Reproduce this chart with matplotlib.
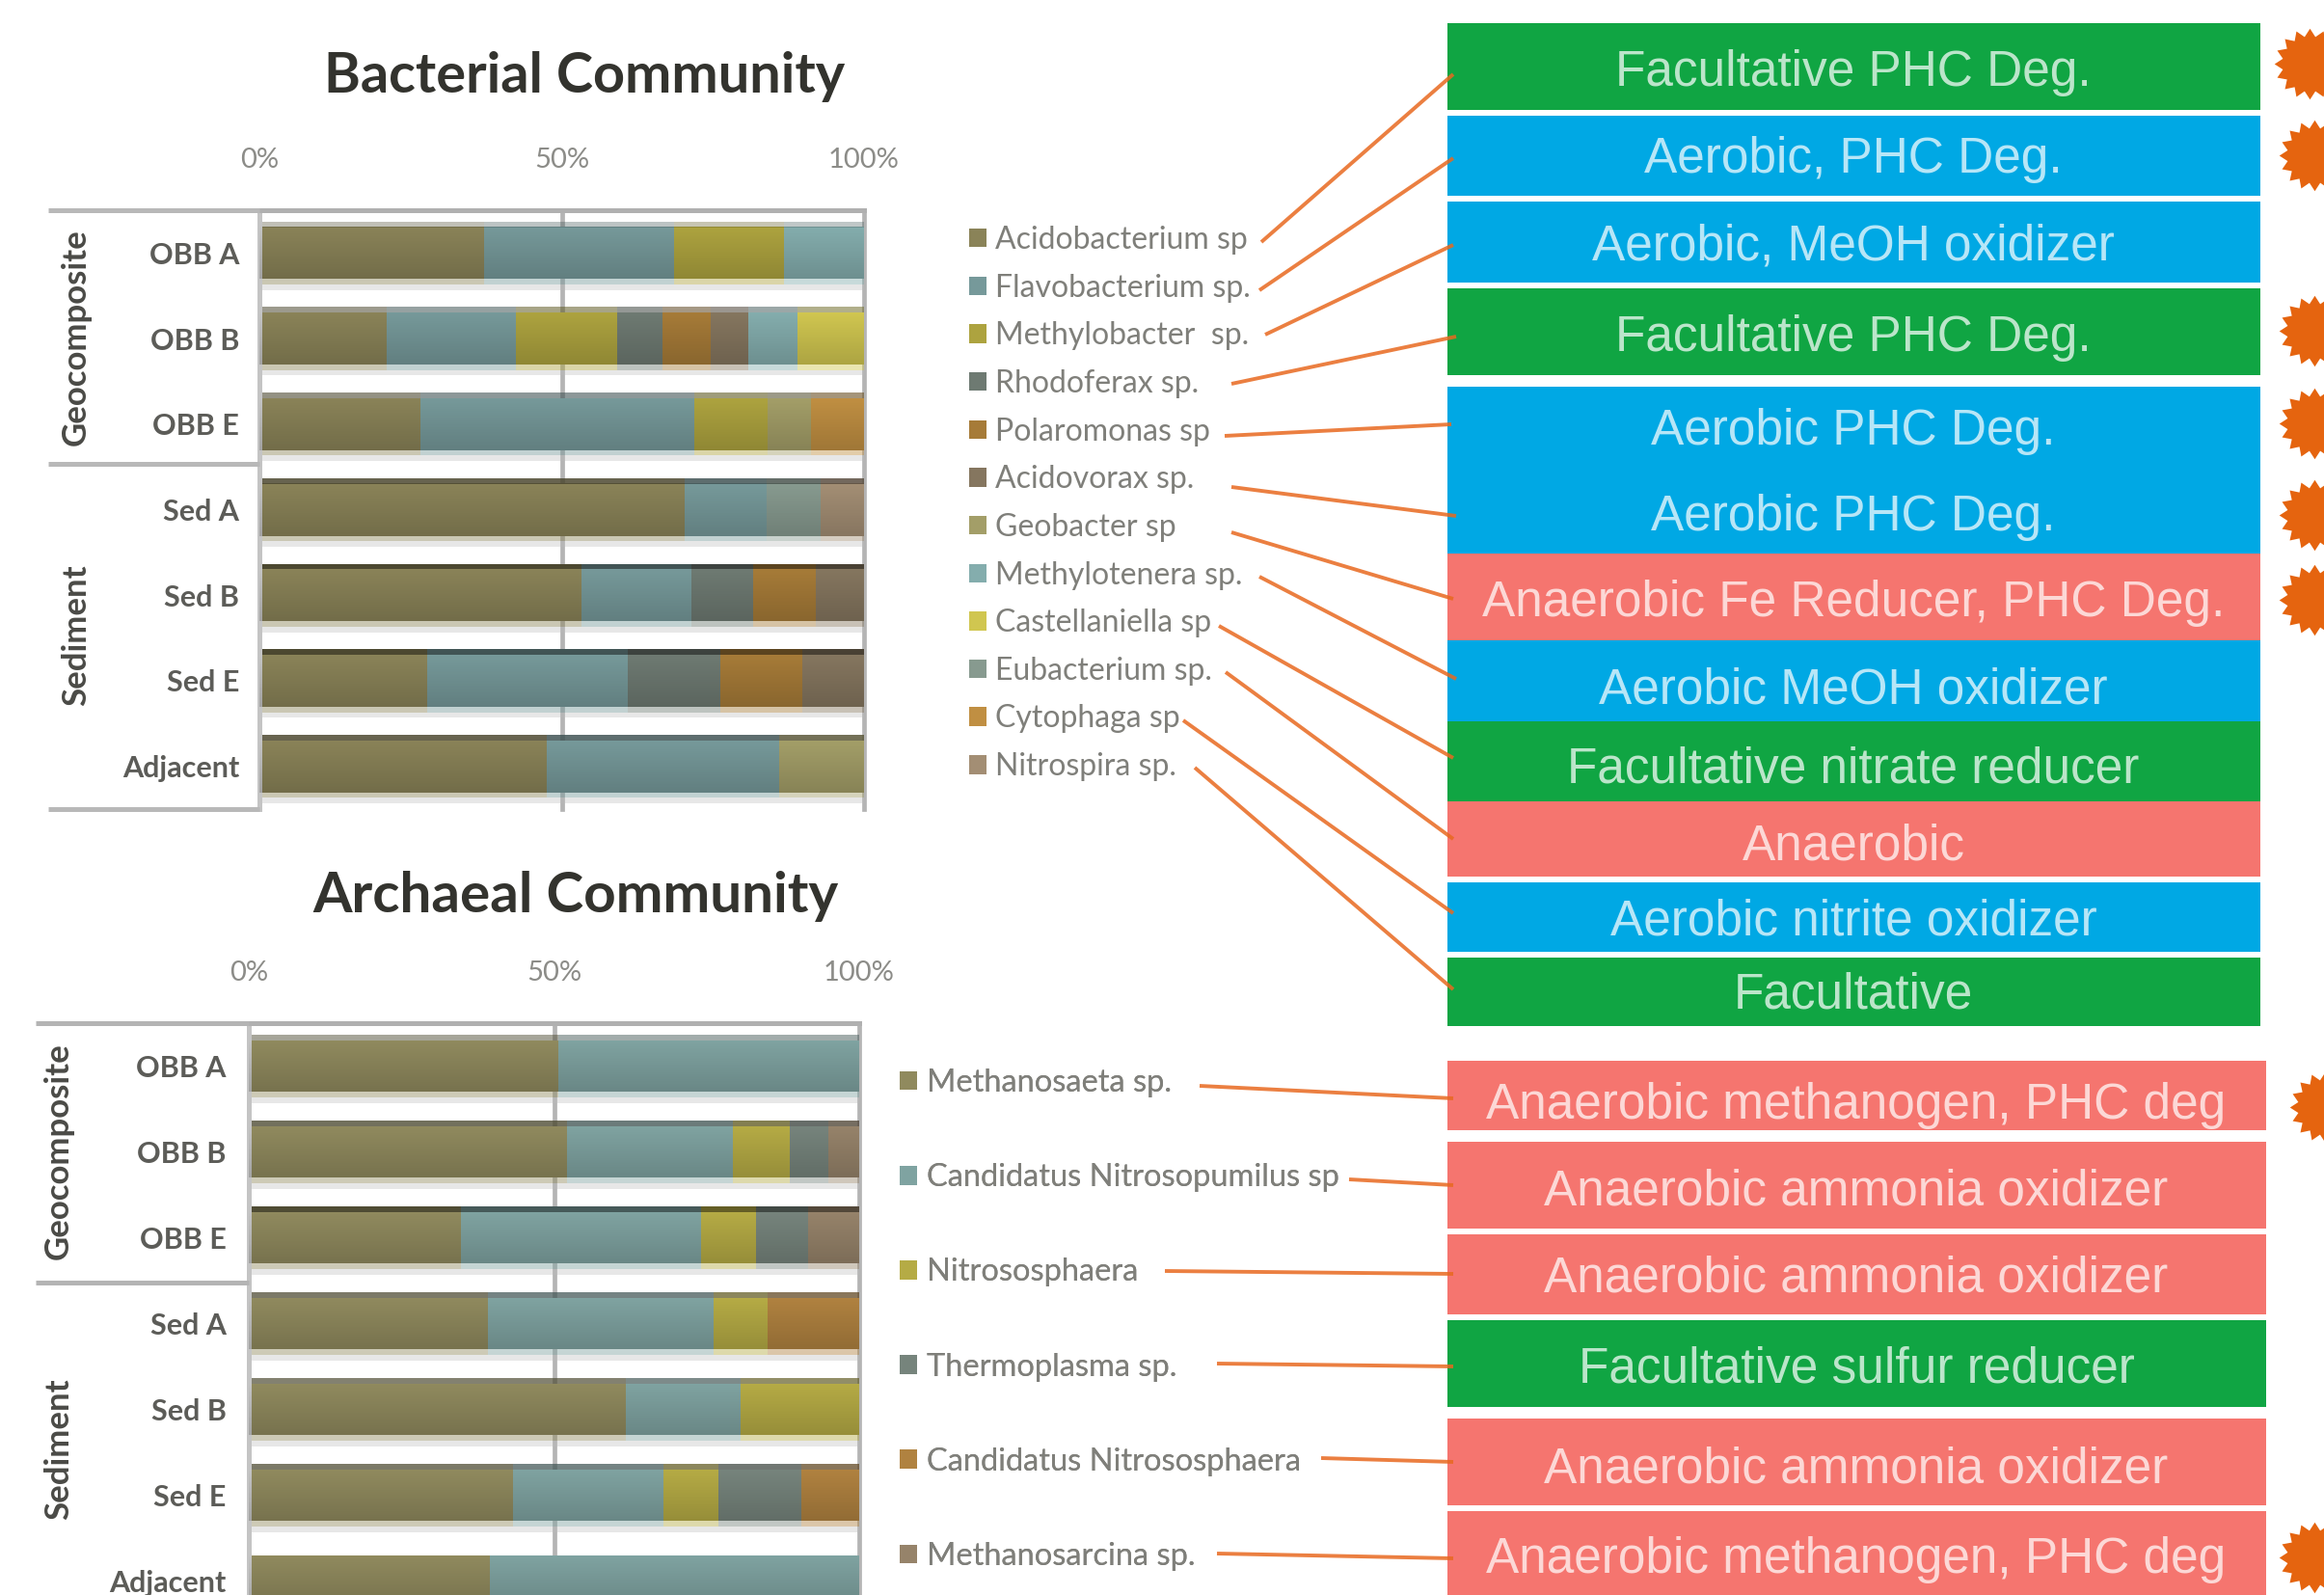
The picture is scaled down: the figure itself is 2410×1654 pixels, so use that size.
import numpy as np
import matplotlib
matplotlib.use("Agg")
import matplotlib.pyplot as plt
from matplotlib.path import Path
from matplotlib.patches import Rectangle

W = 2410
H = 1654

samples = ["OBB A", "OBB B", "OBB E", "Sed A", "Sed B", "Sed E", "Adjacent"]

# percent of reads per genus, rows follow samples
bact_names = ["Acidobacterium sp", "Flavobacterium sp.", "Methylobacter  sp.", "Rhodoferax sp.",
              "Polaromonas sp", "Acidovorax sp.", "Geobacter sp", "Methylotenera sp.",
              "Castellaniella sp", "Eubacterium sp.", "Cytophaga sp", "Nitrospira sp."]
acidobacterium = [37.1, 21.0, 26.7, 70.4, 53.3, 27.7, 47.6]
flavobacterium = [31.5, 21.5, 45.3, 13.5, 18.2, 33.3, 38.4]
methylobacter = [18.2, 16.6, 12.0, 0, 0, 0, 0]
rhodoferax = [0, 7.5, 0, 0, 10.1, 15.3, 0]
polaromonas = [0, 8.1, 0, 0, 10.5, 13.5, 0]
acidovorax = [0, 6.2, 0, 0, 7.9, 10.2, 0]
geobacter = [0, 0, 7.3, 0, 0, 0, 14.0]
methylotenera = [13.2, 8.1, 0, 0, 0, 0, 0]
castellaniella = [0, 11.0, 0, 0, 0, 0, 0]
eubacterium = [0, 0, 0, 9.0, 0, 0, 0]
cytophaga = [0, 0, 8.7, 0, 0, 0, 0]
nitrospira = [0, 0, 0, 7.1, 0, 0, 0]
bact_values = [acidobacterium, flavobacterium, methylobacter, rhodoferax, polaromonas, acidovorax,
               geobacter, methylotenera, castellaniella, eubacterium, cytophaga, nitrospira]

arch_names = ["Methanosaeta sp.", "Candidatus Nitrosopumilus sp", "Nitrososphaera",
              "Thermoplasma sp.", "Candidatus Nitrososphaera", "Methanosarcina sp."]
methanosaeta = [50.7, 52.1, 34.8, 39.1, 61.8, 43.3, 39.5]
nitrosopumilus = [49.3, 27.2, 39.3, 37.0, 18.8, 24.7, 60.5]
nitrososphaera = [0, 9.4, 9.0, 8.9, 19.4, 8.9, 0]
thermoplasma = [0, 6.2, 8.5, 0, 0, 13.7, 0]
cand_nitrososphaera = [0, 0, 0, 15.0, 0, 9.4, 0]
methanosarcina = [0, 5.1, 8.4, 0, 0, 0, 0]
arch_values = [methanosaeta, nitrosopumilus, nitrososphaera, thermoplasma,
               cand_nitrososphaera, methanosarcina]

bact_colors = ["#8a8358", "#76999a", "#ada33f", "#6e7a72", "#a67b38", "#85765f",
               "#a39e68", "#84adad", "#d0c650", "#879a8f", "#c08f42", "#a38e74"]
arch_colors = ["#908a5e", "#7fa3a1", "#b5ab45", "#76847c", "#b08240", "#96836a"]

# strength of the dark strip on top of each bar
bact_top_alpha = [0.35, 0.55, 0.6, 0.85, 1.0, 1.0, 0.85]
arch_top_alpha = [0.5, 0.8, 1.0, 0.75, 0.7, 0.75, 0.0]

bact_roles = ["Facultative PHC Deg.", "Aerobic, PHC Deg.", "Aerobic, MeOH oxidizer", "Facultative PHC Deg.",
              "Aerobic PHC Deg.", "Aerobic PHC Deg.", "Anaerobic Fe Reducer, PHC Deg.", "Aerobic MeOH oxidizer",
              "Facultative nitrate reducer", "Anaerobic", "Aerobic nitrite oxidizer", "Facultative"]
arch_roles = ["Anaerobic methanogen, PHC deg", "Anaerobic ammonia oxidizer", "Anaerobic ammonia oxidizer",
              "Facultative sulfur reducer", "Anaerobic ammonia oxidizer", "Anaerobic methanogen, PHC deg"]

GREEN = "#10a543"
BLUE = "#00a8e4"
RED = "#f5756f"

# role boxes in pixels: top, bottom, colour
bact_boxes = [(24, 114, GREEN), (120, 203, BLUE), (209, 293, BLUE), (299, 389, GREEN),
              (401, 574, BLUE), (574, 664, RED), (664, 748, BLUE), (748, 831, GREEN),
              (831, 909, RED), (915, 987, BLUE), (993, 1064, GREEN)]
arch_boxes = [(1100, 1172, RED), (1184, 1274, RED), (1280, 1363, RED),
              (1369, 1459, GREEN), (1471, 1561, RED), (1567, 1660, RED)]
bact_baselines = [89, 179, 269, 364, 461, 550, 639, 729, 812, 891, 969, 1045]
arch_baselines = [1160, 1250, 1339, 1434, 1537, 1631]

# connectors from a legend entry to its box: x0, y0, x1, y1
bact_links = [(1308, 251, 1507, 77), (1306, 301, 1507, 164), (1312, 347, 1507, 254), (1277, 398, 1510, 349),
              (1270, 452, 1505, 440), (1277, 505, 1510, 535), (1277, 552, 1507, 621), (1306, 598, 1510, 704),
              (1264, 649, 1507, 786), (1271, 697, 1507, 870), (1227, 747, 1507, 947), (1239, 796, 1507, 1026)]
arch_links = [(1244, 1126, 1507, 1139), (1399, 1223, 1507, 1229), (1208, 1318, 1507, 1321),
              (1262, 1414, 1507, 1417), (1370, 1512, 1507, 1516), (1262, 1611, 1507, 1616)]

# bursts flagging the hydrocarbon degraders
burst_x = [2395, 2400, 2400, 2400, 2400, 2400, 2411, 2400]
burst_y = [66, 161, 343, 439, 534, 622, 1148, 1615]

plt.rcParams["font.family"] = ["Lato", "DejaVu Sans"]

fig = plt.figure(figsize=(W / 100, H / 100), dpi=100)


def stacked(left, right, top, bottom, values, names, colors, top_alpha, bar_h, label_pad):
    ax = fig.add_axes([left / W, 1 - bottom / H, (right - left) / W, (bottom - top) / H])
    y = np.arange(len(samples))
    ax.grid(axis="x", color="#b4b4b4", lw=3.4, zorder=0, clip_on=False)
    ax.set_axisbelow(True)
    start = np.zeros(len(samples))
    handles = []
    for vals, name, c in zip(values, names, colors):
        vals = np.array(vals)
        bars = ax.barh(y, vals, left=start, height=bar_h, color=c, label=name, zorder=2)
        handles.append(bars)
        # darker strip above the bar, soft shadow under it
        dark = tuple(0.55 * v for v in matplotlib.colors.to_rgb(c))
        for i in y:
            if vals[i] > 0:
                ax.barh(i - bar_h / 2 - 0.03, vals[i], left=start[i], height=0.065, color=dark,
                        alpha=top_alpha[i], lw=0, zorder=2)
        ax.barh(y + bar_h / 2 + 0.03, vals, left=start, height=0.065, color=c, alpha=0.45, lw=0, zorder=2)
        start = start + vals
    ax.barh(y + bar_h / 2 + 0.095, [100] * len(y), height=0.065, color="#bbbbbb", alpha=0.35, lw=0, zorder=2)

    # vertical shading of the bars
    shade = np.zeros((32, 1, 4))
    ramp = np.linspace(0, 1, 32)
    shade[:, 0, 3] = ramp * 0.17
    for i in y:
        ax.imshow(shade, extent=(0, 100, i + bar_h / 2, i - bar_h / 2), aspect="auto", zorder=3)

    ax.set_xlim(0, 100)
    ax.set_ylim(len(samples) - 0.5, -0.5)
    ax.xaxis.tick_top()
    ax.set_xticks([0, 50, 100])
    ax.set_xticklabels(["0%", "50%", "100%"], fontsize=21, color="#8c8c88")
    ax.set_yticks(y)
    ax.set_yticklabels(samples, fontsize=22, fontweight="bold", color="#5c5c58")
    ax.tick_params(axis="x", length=0, pad=28)
    ax.tick_params(axis="y", length=0, pad=label_pad)
    for s in ["bottom", "right"]:
        ax.spines[s].set_visible(False)
    ax.spines["top"].set_color("#b0b0b0")
    ax.spines["top"].set_linewidth(3.6)
    ax.spines["left"].set_color("#c4c4c4")
    ax.spines["left"].set_linewidth(3.6)
    return ax, handles


ax1, h1 = stacked(269, 896, 218, 839, bact_values, bact_names, bact_colors, bact_top_alpha, 0.61, 15)
ax2, h2 = stacked(258, 891, 1061, 1684, arch_values, arch_names, arch_colors, arch_top_alpha, 0.6, 17)

# pixel space overlay for everything outside the plots
over = fig.add_axes([0, 0, 1, 1], zorder=5)
over.set_xlim(0, W)
over.set_ylim(H, 0)
over.axis("off")

over.text(606, 79, "Bacterial Community", fontsize=41.5, fontweight="bold", color="#33332e", ha="center", va="center")
over.text(597, 930, "Archaeal Community", fontsize=42, fontweight="bold", color="#33332e", ha="center", va="center")

for yy in [218, 481, 839]:
    over.plot([50, 269], [yy, yy], color="#b8b8b8", lw=3.6, solid_capstyle="butt")
for yy in [1061, 1330]:
    over.plot([37, 258], [yy, yy], color="#b4b4b4", lw=3.6, solid_capstyle="butt")

for x, y, t in [(79, 350, "Geocomposite"), (79, 659, "Sediment"), (61, 1194, "Geocomposite"), (61, 1503, "Sediment")]:
    over.text(x, y, t, rotation=90, fontsize=25, fontweight="bold", color="#4a4a46", ha="center", va="center")

for top, bottom, c in bact_boxes:
    over.add_patch(Rectangle((1501, top), 843, bottom - top, color=c, lw=0))
for top, bottom, c in arch_boxes:
    over.add_patch(Rectangle((1501, top), 849, bottom - top, color=c, lw=0))

for t, b in zip(bact_roles, bact_baselines):
    over.text(1922, b, t, family="Liberation Sans", fontsize=37, color="white", alpha=0.72, ha="center", va="baseline")
for t, b in zip(arch_roles, arch_baselines):
    over.text(1925, b, t, family="Liberation Sans", fontsize=37, color="white", alpha=0.72, ha="center", va="baseline")

for x0, y0, x1, y1 in bact_links + arch_links:
    over.plot([x0, x1], [y0, y1], color="#e8691f", lw=2.8, alpha=0.85, solid_capstyle="butt")

burst = Path.unit_regular_star(16, innerCircle=0.78)
over.scatter(burst_x, burst_y, s=2800, marker=burst, color="#e5640f", lw=0, clip_on=True)

# legends take their swatches from the stacked bars
leg_opts = dict(loc="upper left", bbox_transform=over.transData, frameon=False, borderpad=0, borderaxespad=0,
                handlelength=0.56, handleheight=0.56, handletextpad=0.29, labelcolor="#7f7f7a")
over.add_artist(over.legend(h1, bact_names, bbox_to_anchor=(1005, 234), labelspacing=0.615, fontsize=23, **leg_opts))
over.add_artist(over.legend(h2, arch_names, bbox_to_anchor=(933, 1108), labelspacing=2.09, fontsize=23.5, **leg_opts))

fig.savefig("out.png", dpi=100, facecolor="white")
